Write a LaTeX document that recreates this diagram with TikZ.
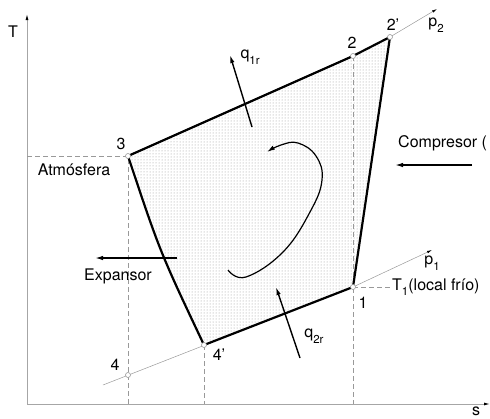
\documentclass[tikz,border=0pt]{standalone}
\usepackage{fontspec}
\setmainfont{TeX Gyre Heros}
\usetikzlibrary{arrows.meta,patterns}
\newcommand{\bajo}[1]{\raisebox{-0.35em}{\fontsize{11.5}{12}\selectfont #1}}

\begin{document}
\begin{tikzpicture}[x=1pt,y=-1pt,font=\fontsize{16}{19}\selectfont,
  eje/.style={gray!70,line width=0.9pt},
  isobara/.style={gray!80,line width=0.5pt},
  guia/.style={gray!80,dash pattern=on 5pt off 3pt,line width=0.6pt},
  ciclo/.style={line width=2.2pt},
  flecha/.style={line width=1.4pt,arrows={-Latex[length=8pt,width=4.5pt]}},
  punto/.style={circle,draw=gray!80,fill=white,inner sep=0pt,minimum size=5pt,line width=0.6pt}]
\useasboundingbox (0,0) rectangle (490,418);
% puntos del ciclo
\coordinate (p3) at (128,156);
\coordinate (p2) at (353,56);
\coordinate (p2p) at (390,37);
\coordinate (p1) at (353,287);
\coordinate (p4p) at (204,345);
\coordinate (p4) at (128,375);
\coordinate (O) at (27,404);
% area
\fill[pattern=dots,pattern color=gray!85] (p3) -- (p2) -- (p2p) -- (p1) -- (p4p) .. controls (160,252) .. (p3) -- cycle;
% ejes
\draw[eje,arrows={-Latex[length=6pt,width=3pt,black]}] (O) -- (27,14) node (ejeT) {};
\draw[eje,arrows={-Latex[length=6pt,width=3pt,black]}] (O) -- (490,404) node (ejeS) {};
\node (lT) at (13,32) {T};
\node[inner sep=0pt] (ls) at (476,411) {s};
% isobaras
\draw[isobara,arrows={-Latex[length=5pt,width=2.5pt,black]}] (103,385) -- (p1) -- (432,250);
\draw[isobara,arrows={-Latex[length=5pt,width=2.5pt,black]}] (p2p) -- (437,9);
\node (lp1) at (432,263) {p\bajo{1}};
\node (lp2) at (436,25) {p\bajo{2}};
% guias
\draw[guia] (27,156) -- (p3) -- (128,404);
\draw[guia] (p4p) -- (204,404);
\draw[guia] (p2) -- (353,404);
\draw[guia] (p1) -- (390,287);
\node[anchor=west,inner sep=1pt] (lT1) at (391,287) {T\bajo{1}(local frío)};
\node (latm) at (74,170) {Atmósfera};
% ciclo
\draw[ciclo,line join=round] (p3) -- (p2) -- (p2p) -- (p1) -- (p4p) .. controls (160,252) .. (p3);
\foreach \p in {p3,p2,p2p,p1,p4p,p4}
  \node[punto] (c\p) at (\p) {};
\node (l3) at (121,144) {3};
\node (l2) at (352,43) {2};
\node (l2p) at (393,25) {2'};
\node (l1) at (363,303) {1};
\node (l4p) at (219,355) {4'};
\node (l4) at (115,365) {4};
% calores y flechas
\coordinate (q1a) at (252,127);
\coordinate (q1b) at (230,55);
\draw[flecha] (q1a) -- (q1b);
\node[anchor=west] (lq1) at (237,57) {q\bajo{1r}};
\coordinate (q2a) at (300,358);
\coordinate (q2b) at (276,287);
\draw[flecha] (q2a) -- (q2b);
\node (lq2) at (314,336) {q\bajo{2r}};
\coordinate (exa) at (177,258);
\coordinate (exb) at (95,258);
\draw[flecha] (exa) -- (exb);
\node (lexp) at (118,276) {Expansor};
\coordinate (coa) at (472,165);
\coordinate (cob) at (395,165);
\draw[flecha] (coa) -- (cob);
\node[anchor=west,inner sep=1pt] (lcom) at (397,143) {Compresor (};
% sentido del ciclo
\draw[line width=1.2pt,arrows={-Latex[length=8pt,width=4.5pt]}] plot[smooth,tension=0.7] coordinates {(228,270) (246,277) (283,252) (310,212) (322,180) (316,156) (298,143) (281,145) (267,152)};
\end{tikzpicture}
\end{document}
